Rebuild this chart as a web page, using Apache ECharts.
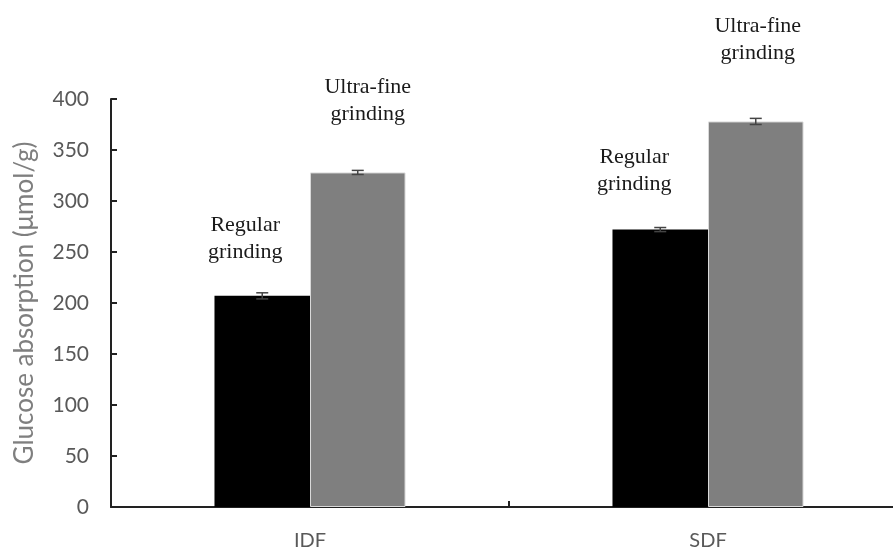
<!DOCTYPE html>
<html>
<head>
<meta charset="utf-8">
<script src="https://cdn.jsdelivr.net/npm/echarts@6/dist/echarts.min.js"></script>
<style>
  html, body { margin: 0; padding: 0; background: #fff; }
  #chart-panel { width: 893px; height: 551px; }
</style>
</head>
<body>
<div id="chart-panel"></div>
<script>
// data
const categories = ['IDF', 'SDF']
const regularValues = [207, 272]
const ultraValues = [328, 378]
const regularErrors = [3, 2]
const ultraErrors = [2, 3]
const seriesNames = ['Regular grinding', 'Ultra-fine grinding']

// label placement tweaks per bar (distance above bar, horizontal shift)
const regularLabelPos = [{ d: 30, dx: -17 }, { d: 32, dx: -26 }]
const ultraLabelPos = [{ d: 45, dx: 10 }, { d: 55, dx: 2 }]

const labelFont = {
  fontFamily: '"Liberation Serif", "DejaVu Serif", serif',
  fontSize: 22,
  lineHeight: 27,
  color: '#1a1a1a'
}

const sansFont = 'Lato, "Open Sans", sans-serif'

function barData (values, pos, name) {
  return values.map((v, i) => ({
    value: v,
    label: {
      show: true,
      position: 'top',
      distance: pos[i].d,
      offset: [pos[i].dx, 0],
      formatter: name.replace(' ', '\n'),
      ...labelFont
    }
  }))
}

function errorSeries (values, errors, side) {
  return {
    type: 'custom',
    silent: true,
    z: 5,
    data: values.map((v, i) => [i, v, errors[i]]),
    renderItem: function (params, api) {
      const band = api.size([1, 0])[0]
      const shift = side * band * 0.12
      const top = api.coord([api.value(0), api.value(1) + api.value(2)])
      const bot = api.coord([api.value(0), api.value(1) - api.value(2)])
      const x = top[0] + shift
      const cap = 6
      const style = { stroke: '#444', lineWidth: 1.5 }
      return {
        type: 'group',
        children: [
          { type: 'line', shape: { x1: x, y1: top[1], x2: x, y2: bot[1] }, style },
          { type: 'line', shape: { x1: x - cap, y1: top[1], x2: x + cap, y2: top[1] }, style },
          { type: 'line', shape: { x1: x - cap, y1: bot[1], x2: x + cap, y2: bot[1] }, style }
        ]
      }
    }
  }
}

const chart = echarts.init(document.getElementById('chart-panel'))

const option = {
  backgroundColor: '#fff',
  animation: false,
  grid: {
    left: 111,
    top: 99,
    width: 796,
    height: 408,
    outerBoundsMode: 'none',
    containLabel: false
  },
  xAxis: {
    type: 'category',
    data: categories,
    axisLine: {
      lineStyle: { color: '#222', width: 2 }
    },
    axisTick: {
      show: true,
      inside: true,
      length: 6,
      lineStyle: { color: '#222', width: 2 }
    },
    axisLabel: {
      color: '#595959',
      fontSize: 20,
      margin: 24,
      fontFamily: sansFont
    }
  },
  yAxis: {
    type: 'value',
    min: 0,
    max: 400,
    interval: 50,
    name: 'Glucose absorption (μmol/g)',
    nameLocation: 'middle',
    nameGap: 73,
    nameTextStyle: {
      color: '#7f7f7f',
      fontSize: 26,
      fontFamily: sansFont
    },
    axisLine: {
      show: true,
      lineStyle: { color: '#222', width: 2 }
    },
    axisTick: {
      show: true,
      inside: true,
      length: 6,
      lineStyle: { color: '#222', width: 2 }
    },
    axisLabel: {
      color: '#595959',
      fontSize: 21,
      margin: 22,
      fontFamily: sansFont
    },
    splitLine: { show: false }
  },
  series: [
    {
      name: seriesNames[0],
      type: 'bar',
      barWidth: '24%',
      barGap: '0%',
      itemStyle: { color: '#000' },
      data: barData(regularValues, regularLabelPos, seriesNames[0])
    },
    {
      name: seriesNames[1],
      type: 'bar',
      barWidth: '24%',
      barGap: '0%',
      itemStyle: { color: '#7f7f7f', borderColor: '#d9d9d9', borderWidth: 1 },
      data: barData(ultraValues, ultraLabelPos, seriesNames[1])
    },
    errorSeries(regularValues, regularErrors, -1),
    errorSeries(ultraValues, ultraErrors, 1)
  ]
}

chart.setOption(option)
</script>
</body>
</html>
